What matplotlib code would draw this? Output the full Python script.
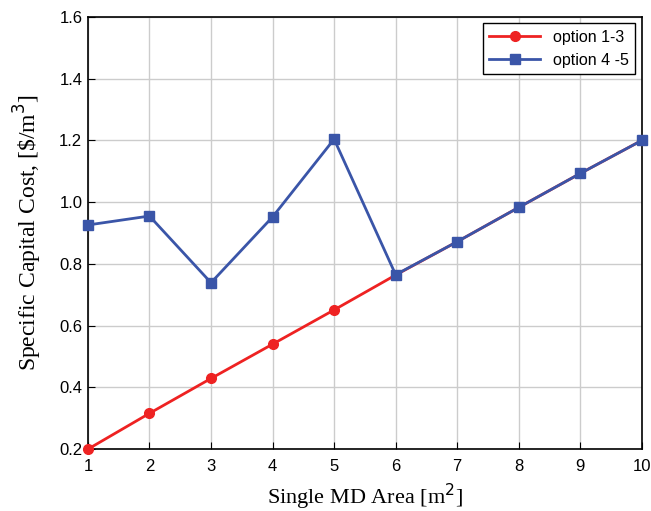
import matplotlib
matplotlib.use("Agg")
import matplotlib.pyplot as plt

# Data
area = [1, 2, 3, 4, 5, 6, 7, 8, 9, 10]
option_1_3 = [0.200, 0.316, 0.429, 0.540, 0.651, 0.764, 0.872, 0.983, 1.093, 1.200]
option_4_5 = [0.926, 0.955, 0.739, 0.952, 1.204, 0.765, 0.872, 0.983, 1.093, 1.200]

fig = plt.figure(figsize=(6.51, 5.11), dpi=100)
ax = fig.add_axes([0.135, 0.121, 0.851, 0.846])

ax.plot(area, option_1_3, color="#ee2222", marker="o", markersize=7,
        linewidth=2, label="option 1-3", clip_on=False, zorder=3)
ax.plot(area, option_4_5, color="#3a55a8", marker="s", markersize=7,
        linewidth=2, label="option 4 -5", clip_on=False, zorder=4)

ax.set_xlim(1, 10)
ax.set_ylim(0.2, 1.6)
ax.set_xticks(area)
ax.set_yticks([0.2, 0.4, 0.6, 0.8, 1.0, 1.2, 1.4, 1.6])
ax.set_yticklabels(["0.2", "0.4", "0.6", "0.8", "1.0", "1.2", "1.4", "1.6"])
ax.grid(True, color="#cccccc", linewidth=1)
ax.set_axisbelow(True)
ax.tick_params(direction="in", length=5, labelsize=12, pad=4)
ax.tick_params(axis="x", pad=7)
for lab in ax.get_xticklabels() + ax.get_yticklabels():
    lab.set_family("Liberation Sans")
for s in ax.spines.values():
    s.set_linewidth(1.2)

ax.set_xlabel("Single MD Area [m$^2$]", family="Liberation Serif", fontsize=16, labelpad=6)
ax.set_ylabel("Specific Capital Cost, [\\$/m$^3$]", family="Liberation Serif", fontsize=17, labelpad=11)

leg = ax.legend(loc="upper right", fancybox=False, framealpha=1, edgecolor="black",
                prop={"family": "Liberation Sans", "size": 11.5}, handlelength=3.2,
                borderaxespad=0.4)
leg.get_frame().set_linewidth(1)

fig.savefig("out.png", dpi=100)
